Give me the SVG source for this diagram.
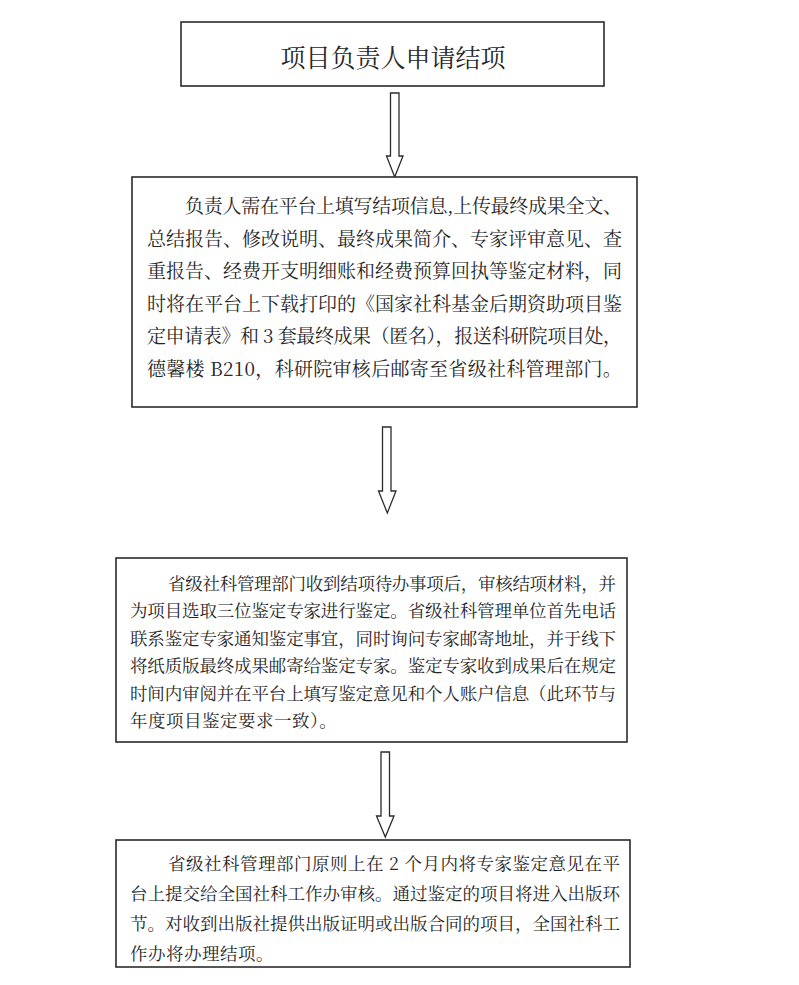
<svg xmlns="http://www.w3.org/2000/svg" width="799" height="985" viewBox="0 0 799 985">
<style>
.box{fill:#fff;stroke:#2b2b2b;stroke-width:1.6}
.arr{fill:#fff;stroke:#2b2b2b;stroke-width:1.3;stroke-linejoin:miter}
text{font-family:"Noto Serif CJK SC","Noto Sans CJK SC","Noto Sans",serif;fill:#262626}
.t1{font-size:25px}
.t2{font-size:19px}
.t3{font-size:17.5px}
</style>
<rect width="799" height="985" fill="#fff"/>
<g id="connectors">
<polygon class="arr" points="390.5,93 399,93 399,156 403,156 394.7,177 386.5,156 390.5,156"/>
<polygon class="arr" points="382.5,427 391,427 391,491 396,491 387.3,513 378.5,491 382.5,491"/>
<polygon class="arr" points="381,752 389.5,752 389.5,816 394,816 385.3,837 376.5,816 381,816"/>
</g>
<g id="node1">
<rect class="box" x="181" y="22" width="423" height="64"/>
<text class="t1" x="393" y="67" text-anchor="middle">项目负责人申请结项</text>
</g>
<g id="node2">
<rect class="box" x="132" y="177" width="505" height="230"/>
<text class="t2" x="185" y="213" textLength="437" lengthAdjust="spacing">负责人需在平台上填写结项信息,上传最终成果全文、</text>
<text class="t2" x="147" y="245.5" textLength="475" lengthAdjust="spacing">总结报告、修改说明、最终成果简介、专家评审意见、查</text>
<text class="t2" x="147" y="278" textLength="475" lengthAdjust="spacing">重报告、经费开支明细账和经费预算回执等鉴定材料，同</text>
<text class="t2" x="147" y="310.5" textLength="475" lengthAdjust="spacing">时将在平台上下载打印的《国家社科基金后期资助项目鉴</text>
<text class="t2" x="147" y="343" textLength="475" lengthAdjust="spacing">定申请表》和 3 套最终成果（匿名），报送科研院项目处，</text>
<text class="t2" x="147" y="375.5" letter-spacing="0.3">德馨楼 B210，科研院审核后邮寄至省级社科管理部门。</text>
</g>
<g id="node3">
<rect class="box" x="116" y="558" width="511" height="184"/>
<text class="t3" x="168" y="589.5" textLength="448" lengthAdjust="spacing">省级社科管理部门收到结项待办事项后，审核结项材料，并</text>
<text class="t3" x="130" y="617" textLength="486" lengthAdjust="spacing">为项目选取三位鉴定专家进行鉴定。省级社科管理单位首先电话</text>
<text class="t3" x="130" y="644.5" textLength="486" lengthAdjust="spacing">联系鉴定专家通知鉴定事宜，同时询问专家邮寄地址，并于线下</text>
<text class="t3" x="130" y="672" textLength="486" lengthAdjust="spacing">将纸质版最终成果邮寄给鉴定专家。鉴定专家收到成果后在规定</text>
<text class="t3" x="130" y="699.5" textLength="486" lengthAdjust="spacing">时间内审阅并在平台上填写鉴定意见和个人账户信息（此环节与</text>
<text class="t3" x="130" y="727" letter-spacing="0.5">年度项目鉴定要求一致）。</text>
</g>
<g id="node4">
<rect class="box" x="116" y="840" width="514" height="127"/>
<text class="t3" x="168" y="869.5" textLength="452" lengthAdjust="spacing">省级社科管理部门原则上在 2 个月内将专家鉴定意见在平</text>
<text class="t3" x="130" y="899.5" textLength="490" lengthAdjust="spacing">台上提交给全国社科工作办审核。通过鉴定的项目将进入出版环</text>
<text class="t3" x="130" y="929.5" textLength="490" lengthAdjust="spacing">节。对收到出版社提供出版证明或出版合同的项目，全国社科工</text>
<text class="t3" x="130" y="959.5" letter-spacing="0.5">作办将办理结项。</text>
</g>
</svg>
